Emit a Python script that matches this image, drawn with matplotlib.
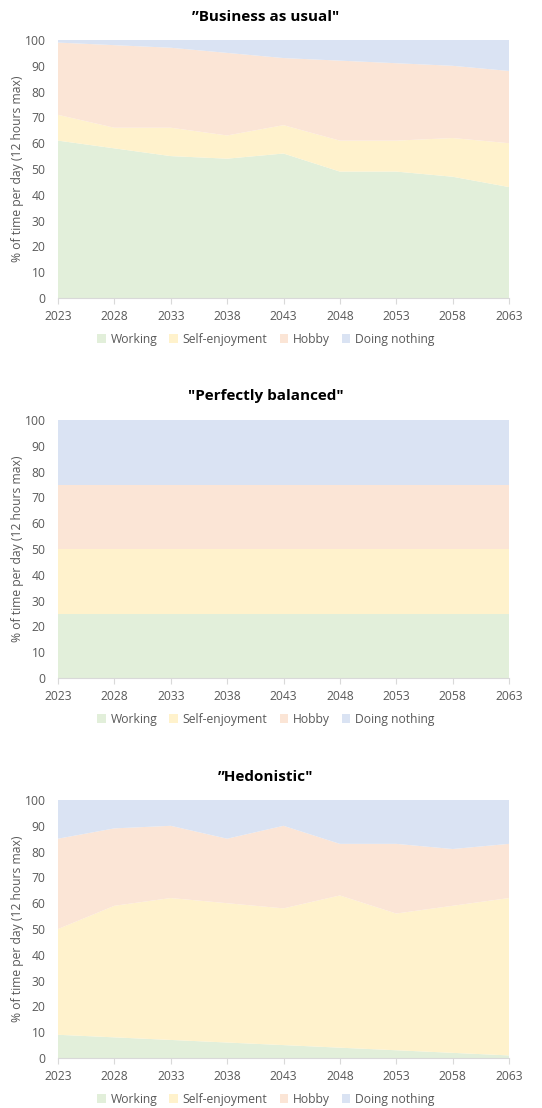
import matplotlib
matplotlib.use("Agg")
import matplotlib.pyplot as plt
from matplotlib.patches import Patch

years = [2023, 2028, 2033, 2038, 2043, 2048, 2053, 2058, 2063]
categories = ["Working", "Self-enjoyment", "Hobby", "Doing nothing"]
colors = ["#e2efda", "#fff2cc", "#fbe5d6", "#dae3f3"]

titles = ["\u201dBusiness as usual\"", "\"Perfectly balanced\"", "\u201dHedonistic\""]

bau_working = [61, 58, 55, 54, 56, 49, 49, 47, 43]
bau_self = [10, 8, 11, 9, 11, 12, 12, 15, 17]
bau_hobby = [28, 32, 31, 32, 26, 31, 30, 28, 28]
bau_nothing = [1, 2, 3, 5, 7, 8, 9, 10, 12]

bal_working = [25, 25, 25, 25, 25, 25, 25, 25, 25]
bal_self = [25, 25, 25, 25, 25, 25, 25, 25, 25]
bal_hobby = [25, 25, 25, 25, 25, 25, 25, 25, 25]
bal_nothing = [25, 25, 25, 25, 25, 25, 25, 25, 25]

hed_working = [9, 8, 7, 6, 5, 4, 3, 2, 1]
hed_self = [41, 51, 55, 54, 53, 59, 53, 57, 61]
hed_hobby = [35, 30, 28, 25, 32, 20, 27, 22, 21]
hed_nothing = [15, 11, 10, 15, 10, 17, 17, 19, 17]

scenarios = [
    [bau_working, bau_self, bau_hobby, bau_nothing],
    [bal_working, bal_self, bal_hobby, bal_nothing],
    [hed_working, hed_self, hed_hobby, hed_nothing],
]

plt.rcParams['font.family'] = ['Open Sans', 'DejaVu Sans']
W, H = 542, 1108
fig = plt.figure(figsize=(W / 100, H / 100), dpi=100)

boxes = [(40, 298), (420, 678), (800, 1058)]
title_y = [17, 396, 777]
legend_y = [339, 719, 1099]
left, right = 58, 509
center_x = 266
grey = "#595959"

for i, (series, (ytop, ybot)) in enumerate(zip(scenarios, boxes)):
    ax = fig.add_axes([left / W, 1 - ybot / H, (right - left) / W, (ybot - ytop) / H])
    ax.stackplot(years, *series, colors=colors, labels=categories, linewidth=0)
    ax.set_xlim(years[0], years[-1])
    ax.set_ylim(0, 100)
    ax.set_xticks(years)
    ax.set_yticks(range(0, 101, 10))
    for s in ["top", "right", "left"]:
        ax.spines[s].set_visible(False)
    ax.spines["bottom"].set_color("#d9d9d9")
    ax.tick_params(axis="x", colors=grey, labelsize=8.7, length=4, color="#d9d9d9", pad=5)
    ax.tick_params(axis="y", colors=grey, labelsize=8.7, length=0, pad=9)
    ax.set_ylabel("% of time per day (12 hours max)", color=grey, fontsize=8.7)
    ax.yaxis.set_label_coords((24 - left) / (right - left), 0.5)
    fig.text(center_x / W, 1 - title_y[i] / H, titles[i],
             ha="center", va="center", fontsize=11, fontweight="bold", color="black")
    handles = [Patch(facecolor=c, edgecolor="none") for c in colors]
    leg = fig.legend(handles, categories, loc="center", bbox_to_anchor=(center_x / W, 1 - legend_y[i] / H),
                     ncol=4, frameon=False, fontsize=8.7, handlelength=0.7, handleheight=0.7,
                     handletextpad=0.4, columnspacing=1.0, borderpad=0, borderaxespad=0)
    for t in leg.get_texts():
        t.set_color(grey)

fig.savefig("out.png", dpi=100, facecolor="white")
